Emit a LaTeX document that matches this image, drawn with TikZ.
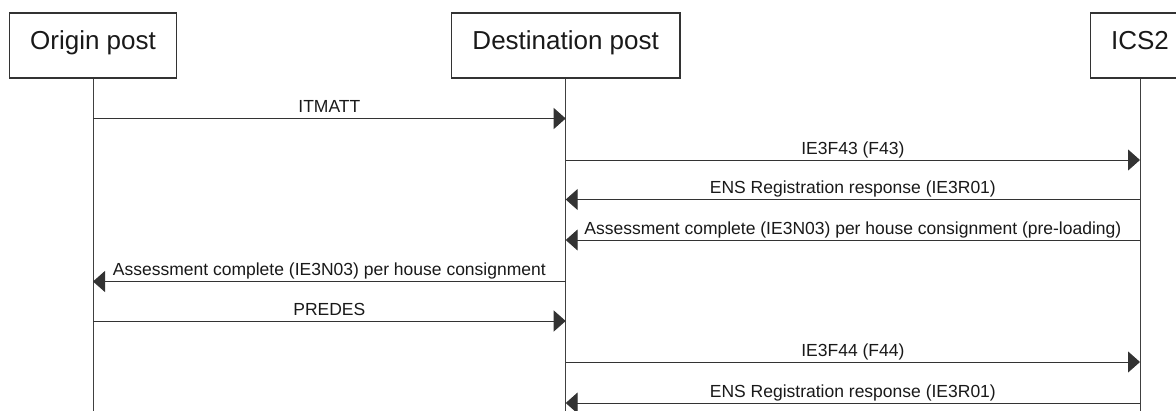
\documentclass[tikz,border=0pt]{standalone}
\usepackage{fontspec}
\setmainfont{Liberation Sans}
\usetikzlibrary{positioning, arrows.meta}

\tikzset{
    post/.style={draw=black!80, line width=1.2pt, rectangle, inner xsep=21pt, minimum height=65pt, text height=0.72em, text depth=0pt, font=\fontsize{26}{30}\selectfont, text=black!90},
    life/.style={draw=black!75, line width=0.9pt},
    msg/.style={draw=black!80, line width=1pt, -{Triangle[length=12pt, width=21pt]}},
    lbl/.style={midway, anchor=base, yshift=6pt, inner sep=0pt, font=\fontsize{17.5}{20}\selectfont, text=black!90}
}

\begin{document}
\begin{tikzpicture}[x=1pt, y=1pt]
                    \useasboundingbox (0,0) rectangle (1176,-410);

                    \node[post] (1) at (93,-45.5) {Origin post};
                    \node[post] (2) at (565.7,-45.5) {Destination post};
                    \node[post] (3) at (1140,-45.5) {ICS2};

                    \coordinate (bot) at (0,-416);
                    \draw[life] (1) -- (1 |- bot);
                    \draw[life] (2) -- (2 |- bot);
                    \draw[life] (3) -- (3 |- bot);

                    \coordinate (m1) at (0,-118.5);
                    \coordinate (m2) at (0,-160);
                    \coordinate (m3) at (0,-199.5);
                    \coordinate (m4) at (0,-240);
                    \coordinate (m5) at (0,-281.5);
                    \coordinate (m6) at (0,-321);
                    \coordinate (m7) at (0,-362);
                    \coordinate (m8) at (0,-403);

                    \draw[msg] (1 |- m1) -- node[lbl] {ITMATT} (2 |- m1);
                    \draw[msg] (2 |- m2) -- node[lbl] {IE3F43 (F43)} (3 |- m2);
                    \draw[msg] (3 |- m3) -- node[lbl] {ENS Registration response (IE3R01)} (2 |- m3);
                    \draw[msg] (3 |- m4) -- node[lbl] {Assessment complete (IE3N03) per house consignment (pre-loading)} (2 |- m4);
                    \draw[msg] (2 |- m5) -- node[lbl] {Assessment complete (IE3N03) per house consignment} (1 |- m5);
                    \draw[msg] (1 |- m6) -- node[lbl] {PREDES} (2 |- m6);
                    \draw[msg] (2 |- m7) -- node[lbl] {IE3F44 (F44)} (3 |- m7);
                    \draw[msg] (3 |- m8) -- node[lbl] {ENS Registration response (IE3R01)} (2 |- m8);
                \end{tikzpicture}
\end{document}
